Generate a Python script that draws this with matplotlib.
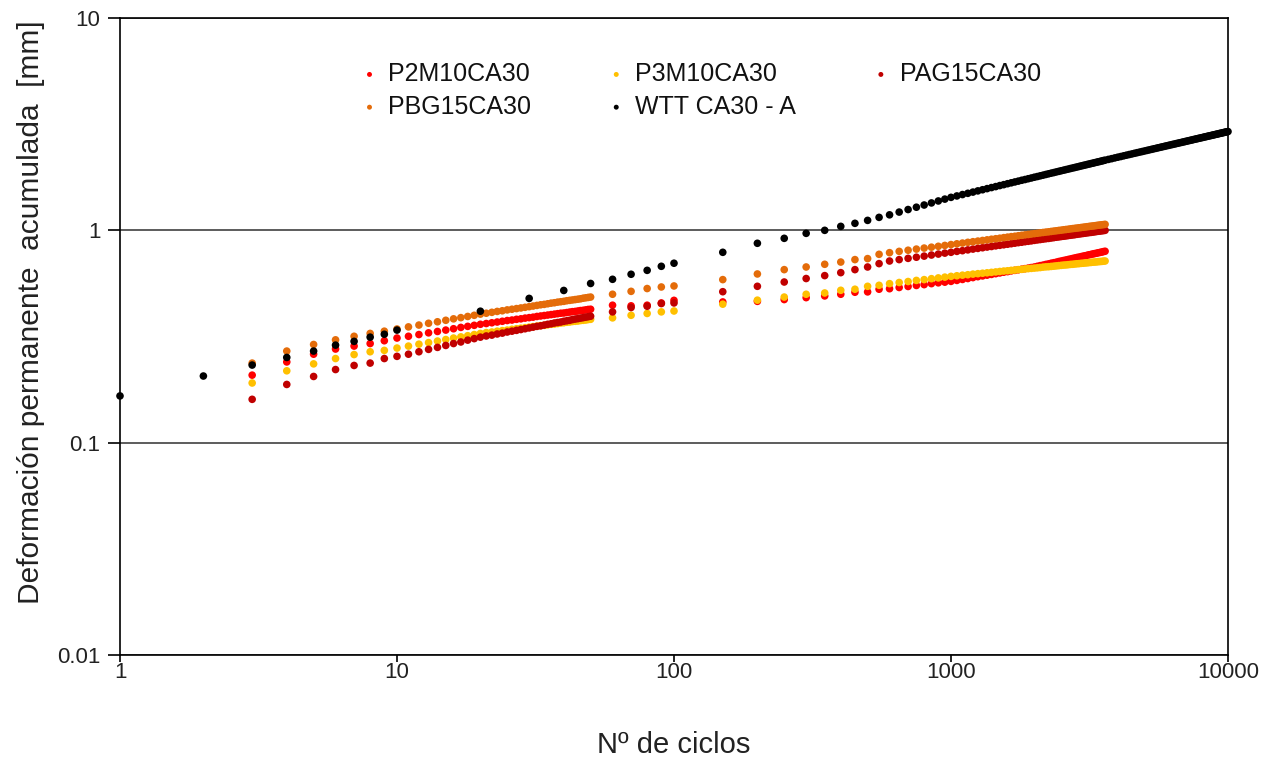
import matplotlib
matplotlib.use("Agg")
import matplotlib.pyplot as plt
from matplotlib.ticker import FixedLocator, FuncFormatter, NullLocator

plt.rcParams['font.family'] = ['Liberation Sans', 'DejaVu Sans']

# cycle numbers of the readings
x_p = list(range(3, 51)) + [60, 70, 80, 90, 100] + list(range(150, 3601, 50))
x_w = list(range(1, 11)) + list(range(20, 101, 10)) + list(range(150, 3601, 50)) + list(range(3700, 10001, 100))

# accumulated permanent deformation [mm]
p2m10 = [0.208, 0.240, 0.261, 0.276, 0.285, 0.293, 0.302, 0.311, 0.317,
         0.323, 0.329, 0.334, 0.339, 0.344, 0.349, 0.353, 0.357, 0.361,
         0.364, 0.367, 0.370, 0.373, 0.376, 0.378, 0.381, 0.383, 0.386, 0.388,
         0.390, 0.393, 0.395, 0.397, 0.399, 0.401, 0.403, 0.405, 0.407, 0.408,
         0.410, 0.412, 0.414, 0.415, 0.417, 0.419, 0.420, 0.422, 0.424, 0.425,
         0.444, 0.441, 0.444, 0.455, 0.468,
         0.460, 0.463, 0.472, 0.482, 0.491, 0.500, 0.511, 0.513, 0.528, 0.531,
         0.538, 0.544, 0.550, 0.555, 0.561, 0.566, 0.570, 0.575,
         0.581, 0.587, 0.593, 0.599, 0.605, 0.610, 0.615, 0.620, 0.625, 0.630,
         0.635, 0.639, 0.644, 0.648, 0.652, 0.656, 0.660, 0.664, 0.668, 0.672,
         0.677, 0.682, 0.686, 0.691, 0.695, 0.700, 0.704, 0.708, 0.713, 0.717,
         0.721, 0.725, 0.729, 0.733, 0.737, 0.741, 0.745, 0.748, 0.752, 0.756,
         0.759, 0.763, 0.767, 0.770, 0.774, 0.777, 0.780, 0.784, 0.787, 0.790,
         0.794, 0.797]

p3m10 = [0.191, 0.218, 0.235, 0.249, 0.260, 0.268, 0.272, 0.279, 0.285,
         0.291, 0.296, 0.301, 0.306, 0.311, 0.315, 0.319, 0.323, 0.327,
         0.330, 0.332, 0.335, 0.337, 0.339, 0.342, 0.344, 0.346, 0.348, 0.350,
         0.352, 0.354, 0.356, 0.357, 0.359, 0.361, 0.362, 0.364, 0.366, 0.367,
         0.369, 0.370, 0.372, 0.373, 0.374, 0.376, 0.377, 0.378, 0.380, 0.381,
         0.387, 0.398, 0.406, 0.413, 0.417,
         0.449, 0.469, 0.485, 0.500, 0.507, 0.522, 0.528, 0.545, 0.551, 0.561,
         0.568, 0.574, 0.581, 0.586, 0.592, 0.597, 0.602, 0.607,
         0.611, 0.615, 0.618, 0.622, 0.625, 0.628, 0.631, 0.634, 0.637, 0.640,
         0.643, 0.645, 0.648, 0.650, 0.653, 0.655, 0.658, 0.660, 0.662, 0.664,
         0.666, 0.668, 0.671, 0.673, 0.674, 0.676, 0.678, 0.680, 0.682, 0.684,
         0.686, 0.687, 0.689, 0.691, 0.692, 0.694, 0.696, 0.697, 0.699, 0.700,
         0.702, 0.703, 0.705, 0.706, 0.708, 0.709, 0.710, 0.712, 0.713, 0.714,
         0.716, 0.717]

pag15 = [0.160, 0.188, 0.205, 0.221, 0.231, 0.237, 0.249, 0.255, 0.261,
         0.268, 0.275, 0.281, 0.287, 0.293, 0.298, 0.304, 0.309, 0.314,
         0.318, 0.321, 0.325, 0.328, 0.332, 0.335, 0.338, 0.341, 0.344, 0.347,
         0.350, 0.353, 0.355, 0.358, 0.361, 0.363, 0.366, 0.368, 0.370, 0.373,
         0.375, 0.377, 0.380, 0.382, 0.384, 0.386, 0.388, 0.390, 0.392, 0.394,
         0.413, 0.433, 0.439, 0.452, 0.455,
         0.514, 0.545, 0.571, 0.593, 0.612, 0.632, 0.653, 0.672, 0.697, 0.717,
         0.728, 0.738, 0.747, 0.756, 0.765, 0.773, 0.781, 0.788,
         0.796, 0.802, 0.809, 0.816, 0.822, 0.828, 0.834, 0.839, 0.845, 0.850,
         0.855, 0.860, 0.865, 0.870, 0.875, 0.879, 0.884, 0.888, 0.892, 0.897,
         0.901, 0.905, 0.909, 0.913, 0.916, 0.920, 0.924, 0.928, 0.931, 0.935,
         0.938, 0.941, 0.945, 0.948, 0.951, 0.954, 0.958, 0.961, 0.964, 0.967,
         0.970, 0.973, 0.976, 0.978, 0.981, 0.984, 0.987, 0.990, 0.992, 0.995,
         0.997, 1.000]

pbg15 = [0.237, 0.270, 0.290, 0.305, 0.317, 0.327, 0.335, 0.343, 0.351,
         0.358, 0.365, 0.371, 0.377, 0.383, 0.388, 0.393, 0.398, 0.403,
         0.407, 0.411, 0.415, 0.418, 0.422, 0.425, 0.428, 0.431, 0.434, 0.437,
         0.440, 0.443, 0.446, 0.448, 0.451, 0.454, 0.456, 0.459, 0.461, 0.463,
         0.466, 0.468, 0.470, 0.472, 0.474, 0.476, 0.479, 0.481, 0.483, 0.485,
         0.500, 0.516, 0.532, 0.541, 0.547,
         0.586, 0.623, 0.653, 0.672, 0.692, 0.709, 0.728, 0.736, 0.771, 0.785,
         0.796, 0.806, 0.816, 0.825, 0.833, 0.841, 0.849, 0.857,
         0.864, 0.871, 0.878, 0.884, 0.890, 0.896, 0.902, 0.908, 0.913, 0.918,
         0.924, 0.929, 0.934, 0.938, 0.943, 0.948, 0.952, 0.956, 0.961, 0.965,
         0.969, 0.973, 0.977, 0.981, 0.984, 0.988, 0.992, 0.995, 0.999, 1.002,
         1.006, 1.009, 1.012, 1.016, 1.019, 1.022, 1.025, 1.028, 1.031, 1.034,
         1.037, 1.040, 1.043, 1.046, 1.048, 1.051, 1.054, 1.057, 1.059, 1.062,
         1.064, 1.067]

wtt_a = [0.166, 0.206, 0.232, 0.252, 0.270, 0.288, 0.300, 0.314, 0.324, 0.339,
         0.416, 0.478, 0.521, 0.562, 0.588, 0.621, 0.648, 0.677, 0.700,
         0.788, 0.869, 0.917, 0.968, 1.000, 1.044, 1.079, 1.114, 1.151, 1.183,
         1.219, 1.253, 1.285, 1.316, 1.346, 1.375, 1.403, 1.430,
         1.452, 1.474, 1.494, 1.514, 1.534, 1.553, 1.572, 1.590, 1.607, 1.625,
         1.641, 1.658, 1.674, 1.690, 1.705, 1.721, 1.735, 1.750, 1.764, 1.779,
         1.792, 1.806, 1.819, 1.833, 1.846, 1.859, 1.871, 1.884, 1.896, 1.908,
         1.920, 1.932, 1.943, 1.955, 1.966, 1.977, 1.988, 1.999, 2.010, 2.021,
         2.031, 2.042, 2.052, 2.062, 2.072, 2.082, 2.092, 2.102, 2.111, 2.121,
         2.131, 2.140,
         2.158, 2.175, 2.193, 2.210, 2.226, 2.243, 2.259, 2.275, 2.290, 2.306,
         2.321, 2.336, 2.350, 2.365, 2.379, 2.393, 2.407, 2.421, 2.434, 2.448,
         2.461, 2.474, 2.487, 2.500, 2.512, 2.525, 2.537, 2.549, 2.561, 2.573,
         2.585, 2.596, 2.608, 2.619, 2.631, 2.642, 2.653, 2.664, 2.675, 2.686,
         2.697, 2.707, 2.718, 2.728, 2.738, 2.749, 2.759, 2.769, 2.779, 2.789,
         2.798, 2.808, 2.818, 2.827, 2.837, 2.846, 2.856, 2.865, 2.874, 2.883,
         2.893, 2.902, 2.911, 2.919]

series = [
    ('P2M10CA30', x_p, p2m10, '#ff0000'),
    ('P3M10CA30', x_p, p3m10, '#ffc000'),
    ('PAG15CA30', x_p, pag15, '#c00000'),
    ('PBG15CA30', x_p, pbg15, '#e46c0a'),
    ('WTT CA30 - A', x_w, wtt_a, '#000000'),
]

fig = plt.figure(figsize=(12.74, 7.6), dpi=100)
ax = fig.add_axes([120/1274, 1 - 655/760, (1228 - 120)/1274, (655 - 18)/760])

handles = {}
for name, xs, ys, col in series:
    h = ax.scatter(xs, ys, s=30, color=col, edgecolors='none', clip_on=False,
                   zorder=3, label=name)
    handles[name] = h

ax.set_xscale('log')
ax.set_yscale('log')
ax.set_xlim(1, 10000)
ax.set_ylim(0.01, 10)

fmt = FuncFormatter(lambda v, p: '%g' % v)
ax.xaxis.set_major_locator(FixedLocator([1, 10, 100, 1000, 10000]))
ax.yaxis.set_major_locator(FixedLocator([0.01, 0.1, 1, 10]))
ax.xaxis.set_minor_locator(NullLocator())
ax.yaxis.set_minor_locator(NullLocator())
ax.xaxis.set_major_formatter(fmt)
ax.yaxis.set_major_formatter(fmt)
ax.tick_params(axis='both', which='major', labelsize=16, width=1.2,
               direction='out', colors='black', labelcolor='#222222')
ax.tick_params(axis='x', length=5, pad=0)
ax.tick_params(axis='y', length=9, pad=5)

ax.yaxis.grid(True, color='#303030', linewidth=1.1, zorder=1)
ax.set_axisbelow(True)
for sp in ax.spines.values():
    sp.set_color('black')
    sp.set_linewidth(1.2)

ax.set_xlabel('Nº de ciclos', fontsize=21, color='#222222')
ax.xaxis.set_label_coords(0.5, -0.12)
ax.set_ylabel('Deformación permanente  acumulada  [mm]', fontsize=21.5,
              color='#222222')
ax.yaxis.set_label_coords(-0.068, 0.538)

order = ['P2M10CA30', 'PBG15CA30', 'P3M10CA30', 'WTT CA30 - A', 'PAG15CA30']
leg = ax.legend([handles[n] for n in order], order, ncol=3, frameon=False,
                loc='upper left', bbox_to_anchor=(362/1274, 1 - 62/760),
                bbox_transform=fig.transFigure, fontsize=18, markerscale=0.65,
                handlelength=0.6, handletextpad=0.45, columnspacing=3.1,
                labelspacing=0.35, borderpad=0, borderaxespad=0)
for t in leg.get_texts():
    t.set_color('#111111')

fig.savefig('out.png', dpi=100)
